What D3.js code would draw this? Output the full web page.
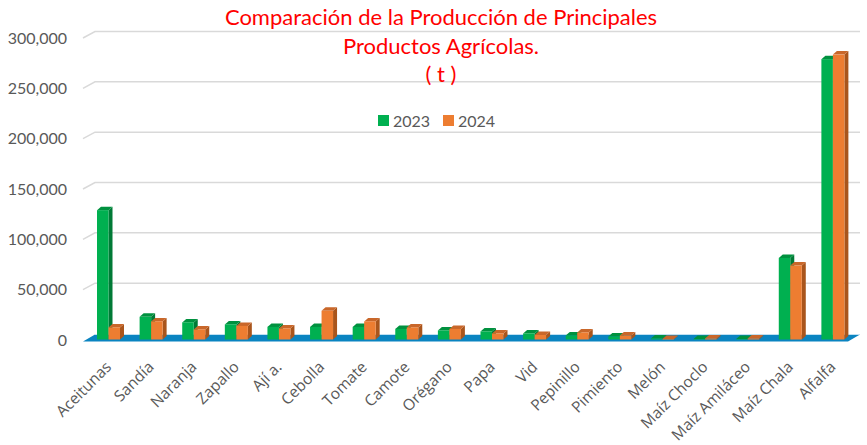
<!DOCTYPE html>
<html lang="es">
<head>
<meta charset="UTF-8">
<title>Producción de Principales Productos Agrícolas</title>
<script src="https://d3js.org/d3.v7.min.js"></script>
<style>
  body, html { margin: 0; padding: 0; background: #fff; }
  #chart { width: 867px; height: 445px; }
  .tick-y { font-family: Lato, "Liberation Sans", sans-serif; font-size: 16px; fill: #595959; }
  .tick-x { font-family: "Open Sans", "Noto Sans", sans-serif; font-size: 15.5px; fill: #595959; }
  .title { font-family: Lato, "Liberation Sans", sans-serif; font-size: 22px; fill: #ff0000; }
  .legend { font-family: Lato, "Liberation Sans", sans-serif; font-size: 16px; fill: #595959; }
</style>
</head>
<body>
<div id="chart"></div>
<script>
  const categories = ["Aceitunas", "Sandía", "Naranja", "Zapallo", "Ají a.", "Cebolla", "Tomate", "Camote",
    "Orégano", "Papa", "Vid", "Pepinillo", "Pimiento", "Melón", "Maíz Choclo", "Maíz Amiláceo", "Maíz Chala", "Alfalfa"];
  const years = ["2023", "2024"];
  const values2023 = [129000, 23000, 17500, 15500, 13000, 13000, 13000, 11000, 9500, 8500, 6500, 4500, 3500, 1500, 1000, 1000, 81500, 279000];
  const values2024 = [12500, 18500, 10500, 14000, 11500, 29000, 18500, 12500, 11000, 6500, 5000, 7500, 4500, 1000, 1500, 1500, 74000, 283500];
  const yTicks = [0, 50000, 100000, 150000, 200000, 250000, 300000];
  const titleLines = ["Comparación de la Producción de Principales", "Productos Agrícolas.", "( t )"];

  const colors = { "2023": "#00b050", "2024": "#ed7d31" };
  const sideColors = { "2023": "#007a36", "2024": "#a9551c" };
  const topColors = { "2023": "#00913f", "2024": "#c9672a" };

  const W = 867, H = 445;
  const wallDx = 12, wallDy = 6.5;   // depth of back wall
  const barDx = 4, barDy = 3.5;      // depth of each column

  const svg = d3.select("#chart").append("svg")
    .attr("width", W).attr("height", H);

  const x = d3.scaleBand().domain(categories).range([87, 854]);
  const xSub = d3.scaleBand().domain(years).range([10, 33]);
  const y = d3.scaleLinear().domain([0, 300000]).range([340, 38]);

  // gridlines on the back wall, with the little diagonal to the front
  const grid = svg.append("g");
  yTicks.filter(t => t > 0).forEach(t => {
    grid.append("path")
      .attr("d", `M83,${y(t)} L${83 + wallDx},${y(t) - wallDy} L860,${y(t) - wallDy}`)
      .attr("fill", "none")
      .attr("stroke", "#d9d9d9")
      .attr("stroke-width", 1.5);
  });

  // y tick labels
  svg.append("g").selectAll("text")
    .data(yTicks)
    .join("text")
    .attr("class", "tick-y")
    .attr("x", 67)
    .attr("y", d => y(d) + 5.5)
    .attr("text-anchor", "end")
    .text(d => d3.format(",")(d));

  // floor
  const y0 = y(0);
  svg.append("path")
    .attr("d", `M83,${y0 + 1.5} L${83 + wallDx},${y0 - wallDy + 1} L860,${y0 - wallDy + 1} L${860 - wallDx},${y0 + 1.5} Z`)
    .attr("fill", "#0a84c1");
  svg.append("path")
    .attr("d", `M${83 + wallDx},${y0 - wallDy + 1} L860,${y0 - wallDy + 1}`)
    .attr("stroke", "#bfe0f2").attr("stroke-width", 1);

  // columns (front face + right side + top)
  const series = years.map((yr, i) => ({ year: yr, values: i === 0 ? values2023 : values2024 }));
  const bars = [];
  categories.forEach((c, ci) => {
    series.forEach(s => bars.push({ cat: c, year: s.year, value: s.values[ci] }));
  });

  const bw = xSub.bandwidth();
  const g = svg.append("g");
  const bar = g.selectAll("g.bar")
    .data(bars)
    .join("g")
    .attr("class", "bar")
    .attr("transform", d => `translate(${x(d.cat) + xSub(d.year)},0)`);

  bar.append("path")
    .attr("d", d => {
      const top = y(d.value), bot = y(0) - 0.5;
      return `M${bw},${top} L${bw + barDx},${top - barDy} L${bw + barDx},${bot - barDy} L${bw},${bot} Z`;
    })
    .attr("fill", d => sideColors[d.year]);
  bar.append("path")
    .attr("d", d => {
      const top = y(d.value);
      return `M0,${top} L${barDx},${top - barDy} L${bw + barDx},${top - barDy} L${bw},${top} Z`;
    })
    .attr("fill", d => topColors[d.year]);
  bar.append("rect")
    .attr("x", 0)
    .attr("y", d => y(d.value))
    .attr("width", bw)
    .attr("height", d => y(0) - 0.5 - y(d.value))
    .attr("fill", d => colors[d.year]);

  // x labels
  svg.append("g").selectAll("text")
    .data(categories)
    .join("text")
    .attr("class", "tick-x")
    .attr("text-anchor", "end")
    .attr("transform", d => `translate(${x(d) + x.bandwidth() / 2 + 4},${368}) rotate(-45)`)
    .text(d => d);

  // title
  svg.append("g").selectAll("text")
    .data(titleLines)
    .join("text")
    .attr("class", "title")
    .attr("x", 441)
    .attr("y", (d, i) => 25 + i * 28.5)
    .attr("text-anchor", "middle")
    .text(d => d);

  // legend
  const legend = svg.append("g");
  const legendX = { "2023": 378, "2024": 443 };
  years.forEach(yr => {
    legend.append("rect")
      .attr("x", legendX[yr]).attr("y", 115)
      .attr("width", 11).attr("height", 11)
      .attr("fill", colors[yr]);
    legend.append("text")
      .attr("class", "legend")
      .attr("x", legendX[yr] + 15).attr("y", 127)
      .text(yr);
  });
</script>
</body>
</html>
